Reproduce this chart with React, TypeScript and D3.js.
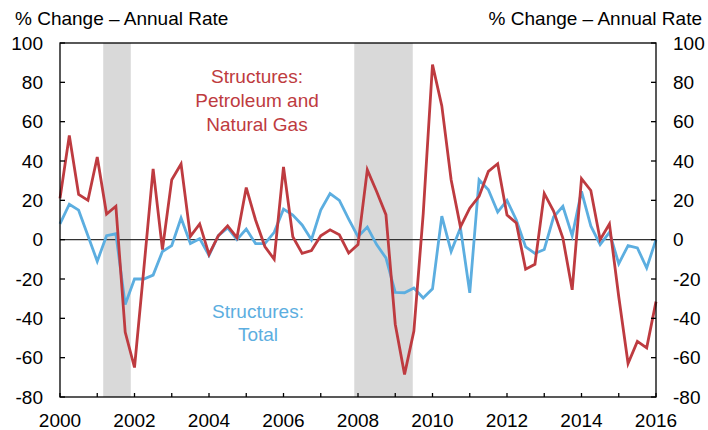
import React from "react";
import * as d3 from "d3";

const startYear = 2000;
const petroleum = [21, 53, 23, 20, 42, 13, 17, -47, -65, -15, 36, -5, 30.5, 38.5, 1.7, 8, -7.5, 2, 7, 1, 26.5, 10, -3.5, -10, 37, 1.5, -7, -5.5, 2, 5, 2.5, -6.8, -2.5, 35.5, 24.5, 12.7, -43, -68.5, -46.5, 13, 89, 68, 30.5, 6.5, 16, 22, 34.7, 38.6, 12.5, 8.5, -15, -12.5, 23.5, 14.5, 0.8, -25.5, 31, 25, 0, 8, -29, -63, -51.7, -55, -31.5];
const total = [8, 18, 15, 2, -11, 2, 3, -33, -20, -20, -18, -6, -3, 11, -2, 0.5, -8, 2, 6, 0, 5.4, -2, -2, 3.7, 15.5, 12.5, 7.5, 0, 15, 23.4, 20, 10.5, 1.5, 6.4, -2.5, -9.3, -26.8, -27, -24.6, -29.7, -25, 12, -6, 6, -27, 30.5, 25.4, 14, 20, 10, -3.7, -7, -5, 11.5, 17, 2, 24.6, 7, -2.5, 3.7, -12.2, -3, -4.2, -14.4, 0];
const recessions: [number, number][] = [[2001.16, 2001.9], [2007.9, 2009.47]];
const yTicks = [100, 80, 60, 40, 20, 0, -20, -40, -60, -80];
const xLabelYears = [2000, 2002, 2004, 2006, 2008, 2010, 2012, 2014, 2016];
const xMinorYears = d3.range(2000, 2017);
const axisTitle = "% Change \u2013 Annual Rate";
const redLabel = ["Structures:", "Petroleum and", "Natural Gas"];
const blueLabel = ["Structures:", "Total"];

const W = 708, H = 430;
const L = 60, R = 656, T = 43, B = 397;
const RED = "#BE3B40";
const BLUE = "#5CAEE0";
const FONT = "'Liberation Sans', Arial, Helvetica, sans-serif";
const FS = 19;

export default function App() {
  const x = d3.scaleLinear().domain([2000, 2016]).range([L, R]);
  const y = d3.scaleLinear().domain([-80, 100]).range([B, T]);
  const line = d3.line<number>()
    .x((_, i) => x(startYear + i / 4))
    .y((d) => y(d));

  return (
    <svg width={W} height={H} style={{ position: "absolute", left: 0, top: 0, background: "#fff" }} fontFamily={FONT}>
      {recessions.map(([a, b], i) => (
        <rect key={i} x={x(a)} y={T} width={x(b) - x(a)} height={B - T} fill="#D9D9D9" />
      ))}
      <line x1={L} x2={R} y1={y(0)} y2={y(0)} stroke="#333" strokeWidth={1.2} />
      <path d={line(total) || ""} fill="none" stroke={BLUE} strokeWidth={2.8} strokeLinejoin="miter" />
      <path d={line(petroleum) || ""} fill="none" stroke={RED} strokeWidth={2.8} strokeLinejoin="miter" />
      <rect x={L} y={T} width={R - L} height={B - T} fill="none" stroke="#000" strokeWidth={1.3} />
      {yTicks.map((t) => (
        <g key={t}>
          <line x1={L} x2={L + 5} y1={y(t)} y2={y(t)} stroke="#000" strokeWidth={1.3} />
          <line x1={R - 5} x2={R} y1={y(t)} y2={y(t)} stroke="#000" strokeWidth={1.3} />
          <text x={43} y={y(t)} dy="0.35em" textAnchor="end" fontSize={FS} fill="#000">{t}</text>
          <text x={673} y={y(t)} dy="0.35em" textAnchor="start" fontSize={FS} fill="#000">{t}</text>
        </g>
      ))}
      {xMinorYears.map((yr) => (
        <line key={yr} x1={x(yr)} x2={x(yr)} y1={B} y2={B - 4} stroke="#000" strokeWidth={1.3} />
      ))}
      {xLabelYears.map((yr) => (
        <text key={yr} x={x(yr)} y={427} textAnchor="middle" fontSize={FS} fill="#000">{yr}</text>
      ))}
      <text x={15} y={25} fontSize={FS} fill="#000">{axisTitle}</text>
      <text x={702} y={25} fontSize={FS} textAnchor="end" fill="#000">{axisTitle}</text>
      {redLabel.map((s, i) => (
        <text key={i} x={257} y={83 + i * 24} textAnchor="middle" fontSize={FS} fill={RED}>{s}</text>
      ))}
      {blueLabel.map((s, i) => (
        <text key={i} x={258} y={318 + i * 23} textAnchor="middle" fontSize={FS} fill={BLUE}>{s}</text>
      ))}
    </svg>
  );
}
